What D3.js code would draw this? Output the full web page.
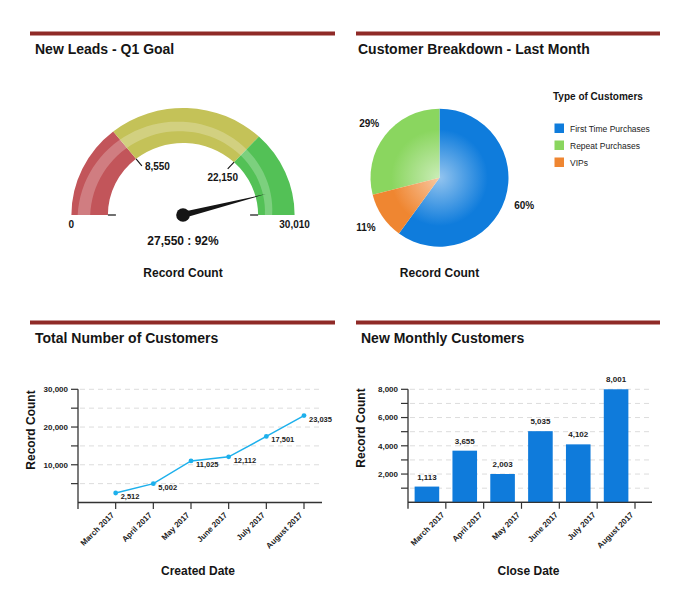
<!DOCTYPE html>
<html><head><meta charset="utf-8">
<script src="https://cdn.jsdelivr.net/npm/d3@7"></script>
<style>
body{margin:0;background:#fff;}
svg text{font-family:"Liberation Sans",Arial,sans-serif;}
</style></head><body>
<svg id="chart" width="690" height="609"></svg>
<script>
// ---------------- data ----------------
const panelTitles = ["New Leads - Q1 Goal", "Customer Breakdown - Last Month", "Total Number of Customers", "New Monthly Customers"];

const gaugeStops = [0, 8550, 22150, 30010];
const gaugeValue = 27550;
const gaugeTitle = "Record Count";

const pieTitle = "Type of Customers";
const pieCategories = ["First Time Purchases", "Repeat Purchases", "VIPs"];
const pieShares = [60, 29, 11];
const pieAxisTitle = "Record Count";

const months = ["March 2017", "April 2017", "May 2017", "June 2017", "July 2017", "August 2017"];
const totalCustomers = [2512, 5002, 11025, 12112, 17501, 23035];
const lineYTicks = [5000, 10000, 15000, 20000, 25000, 30000];
const lineYLabeled = [10000, 20000, 30000];
const lineXTitle = "Created Date";

const newCustomers = [1113, 3655, 2003, 5035, 4102, 8001];
const barYTicks = [1000, 2000, 3000, 4000, 5000, 6000, 7000, 8000];
const barYLabeled = [2000, 4000, 6000, 8000];
const barXTitle = "Close Date";
const yTitle = "Record Count";

// ---------------- styles ----------------
const gaugeColors = ["#c2555a", "#c4c258", "#53c156"];
const pieColors = ["#0f7cdc", "#8ad65f", "#ef8631"];
const lineColor = "#1db0ec";
const barColor = "#0f7bdb";
const axisColor = "#333";
const textColor = "#151515";
const fmt = d3.format(",");

const svg = d3.select("#chart");
const defs = svg.append("defs");

// ---------------- panel headers ----------------
const panels = [
  {x0: 30, x1: 335, y: 31.5, tx: 35, ty: 54},
  {x0: 356, x1: 660, y: 31.5, tx: 358, ty: 54},
  {x0: 30, x1: 335, y: 320.5, tx: 35, ty: 343},
  {x0: 356, x1: 660, y: 320.5, tx: 361, ty: 343}
];
panels.forEach((p, i) => {
  svg.append("rect").attr("x", p.x0).attr("y", p.y).attr("width", p.x1 - p.x0).attr("height", 4).attr("fill", "#8f2a27");
  svg.append("text").attr("x", p.tx).attr("y", p.ty).text(panelTitles[i])
    .attr("font-size", 14).attr("font-weight", "bold").attr("fill", textColor);
});

// ---------------- gauge ----------------
(function () {
  const cx = 183, cy = 215, sx = 1.043, R0 = 72, R1 = 107;
  const gMax = gaugeStops[gaugeStops.length - 1];
  const ga = d3.scaleLinear().domain([0, gMax]).range([-Math.PI / 2, Math.PI / 2]);
  const g = svg.append("g").attr("transform", `translate(${cx},${cy}) scale(${sx},1)`);
  const arc = d3.arc().innerRadius(R0).outerRadius(R1);
  d3.pairs(gaugeStops).forEach(([a, b], i) => {
    g.append("path").attr("d", arc({startAngle: ga(a), endAngle: ga(b)})).attr("fill", gaugeColors[i]);
  });
  // gloss stripe
  const angs = d3.range(0, 1.0001, 0.02).map(t => -Math.PI / 2 + t * Math.PI);
  const tOf = a => (a + Math.PI / 2) / Math.PI;
  const stripe = d3.areaRadial().angle(a => a)
    .innerRadius(a => 89 - 10.5 * tOf(a)).outerRadius(a => 101 - 15.5 * tOf(a));
  g.append("path").attr("d", stripe(angs)).attr("fill", "#fff").attr("opacity", 0.24);

  // end ticks at baseline
  [[-1, 1], [1, -1]].forEach(([side, dir]) => {
    const x = cx + side * sx * R0;
    svg.append("line").attr("x1", x).attr("x2", x + dir * 8).attr("y1", cy).attr("y2", cy)
      .attr("stroke", "#111").attr("stroke-width", 1.2);
  });
  // stop ticks & labels
  gaugeStops.slice(1, -1).forEach(v => {
    const a = ga(v);
    const p = r => [cx + sx * r * Math.sin(a), cy - r * Math.cos(a)];
    const [x1, y1] = p(R0), [x2, y2] = p(R0 - 9);
    svg.append("line").attr("x1", x1).attr("y1", y1).attr("x2", x2).attr("y2", y2).attr("stroke", "#111").attr("stroke-width", 1.1);
    const t = svg.append("text").text(fmt(v)).attr("font-size", 10).attr("font-weight", "bold").attr("fill", textColor);
    if (a < 0) t.attr("x", x2 + 3).attr("y", y2 + 4).attr("text-anchor", "start");
    else t.attr("x", x2 - 5).attr("y", y2 + 12).attr("text-anchor", "middle");
  });
  // min/max labels
  [[0, -1], [gMax, 1]].forEach(([v, side]) => {
    svg.append("text").attr("x", cx + side * sx * R1).attr("y", 227.5).attr("text-anchor", "middle")
      .attr("font-size", 10).attr("font-weight", "bold").attr("fill", textColor).text(fmt(v));
  });
  // needle
  const na = ga(gaugeValue);
  const L = 82, w = 3.2;
  const tip = [L * Math.sin(na), -L * Math.cos(na)];
  const b1 = [w * Math.cos(na), w * Math.sin(na)], b2 = [-b1[0], -b1[1]];
  g.append("path").attr("d", `M${b1}L${tip}L${b2}Z`).attr("fill", "#151515");
  svg.append("circle").attr("cx", cx).attr("cy", cy).attr("r", 6.8).attr("fill", "#151515");

  svg.append("text").attr("x", cx).attr("y", 245).attr("text-anchor", "middle").attr("font-size", 12).attr("font-weight", "bold")
    .attr("fill", textColor).text(`${fmt(gaugeValue)} : ${Math.round(gaugeValue / gMax * 100)}%`);
  svg.append("text").attr("x", cx).attr("y", 276.5).attr("text-anchor", "middle").attr("font-size", 12).attr("font-weight", "bold")
    .attr("fill", textColor).text(gaugeTitle);
})();

// ---------------- pie ----------------
(function () {
  const cx = 439.5, cy = 177.7, R = 69;
  const total = d3.sum(pieShares);
  const a0 = pieShares[0] / total * 2 * Math.PI;
  const pie = d3.pie().sort(null).value(d => d).startAngle(a0).endAngle(a0 - 2 * Math.PI);
  const arcs = pie(pieShares);
  const arc = d3.arc().innerRadius(0).outerRadius(R);
  const pg = svg.append("g").attr("transform", `translate(${cx},${cy})`);
  arcs.forEach((d, i) => {
    const gid = "pieGrad" + i;
    const grad = defs.append("radialGradient").attr("id", gid).attr("gradientUnits", "userSpaceOnUse")
      .attr("cx", 0).attr("cy", 0).attr("r", R).attr("fx", 0).attr("fy", 0);
    grad.append("stop").attr("offset", "0%").attr("stop-color", d3.interpolateRgb(pieColors[i], "#ffffff")(0.55));
    grad.append("stop").attr("offset", "25%").attr("stop-color", d3.interpolateRgb(pieColors[i], "#ffffff")(0.35));
    grad.append("stop").attr("offset", "70%").attr("stop-color", pieColors[i]);
    grad.append("stop").attr("offset", "100%").attr("stop-color", pieColors[i]);
    pg.append("path").attr("d", arc(d)).attr("fill", `url(#${gid})`);
    const mid = (d.startAngle + d.endAngle) / 2, lr = 89;
    svg.append("text").attr("x", cx + lr * Math.sin(mid)).attr("y", cy - lr * Math.cos(mid)).attr("dy", "0.36em")
      .attr("text-anchor", "middle").attr("font-size", 10).attr("font-weight", "bold").attr("fill", textColor)
      .text(Math.round(d.value / total * 100) + "%");
  });
  svg.append("text").attr("x", 553).attr("y", 99.5).attr("font-size", 10).attr("font-weight", "bold").attr("fill", textColor).text(pieTitle);
  pieCategories.forEach((c, i) => {
    svg.append("rect").attr("x", 554.5).attr("y", 123.5 + i * 17).attr("width", 9.5).attr("height", 9.5).attr("fill", pieColors[i]);
    svg.append("text").attr("x", 570).attr("y", 131.5 + i * 17).attr("font-size", 8.5).attr("fill", "#222").text(c);
  });
  svg.append("text").attr("x", cx).attr("y", 276.5).attr("text-anchor", "middle").attr("font-size", 12).attr("font-weight", "bold")
    .attr("fill", textColor).text(pieAxisTitle);
})();

// ---------------- shared axis helper ----------------
function drawFrame(o) {
  const g = svg.append("g");
  g.selectAll(".grid").data(o.yTicks).join("line")
    .attr("x1", o.left + 2).attr("x2", o.right).attr("y1", d => o.y(d)).attr("y2", d => o.y(d))
    .attr("stroke", "#dcdcdc").attr("stroke-width", 1).attr("stroke-dasharray", "5,4");
  g.selectAll(".yt").data(o.yTicks).join("line")
    .attr("x1", o.left - 7).attr("x2", o.left).attr("y1", d => o.y(d)).attr("y2", d => o.y(d))
    .attr("stroke", axisColor).attr("stroke-width", 1.2);
  g.selectAll(".yl").data(o.yLabeled).join("text")
    .attr("x", o.left - 10).attr("y", d => o.y(d)).attr("dy", "0.35em").attr("text-anchor", "end")
    .attr("font-size", 8).attr("font-weight", "bold").attr("fill", "#222").text(d => fmt(d));
  g.append("line").attr("x1", o.left).attr("x2", o.left).attr("y1", o.y(o.yMax)).attr("y2", o.y(0) + 6.5)
    .attr("stroke", axisColor).attr("stroke-width", 1.3);
  g.append("line").attr("x1", o.left).attr("x2", o.right).attr("y1", o.y(0)).attr("y2", o.y(0))
    .attr("stroke", axisColor).attr("stroke-width", 1.3);
  g.selectAll(".xt").data(months).join("line")
    .attr("x1", d => o.tickX(d)).attr("x2", d => o.tickX(d)).attr("y1", o.y(0)).attr("y2", o.y(0) + 6.5)
    .attr("stroke", axisColor).attr("stroke-width", 1.2);
  g.selectAll(".xl").data(months).join("text")
    .attr("transform", d => `translate(${o.tickX(d) - 1},${o.y(0) + 13}) rotate(-45)`)
    .attr("text-anchor", "end").attr("font-size", 8).attr("font-weight", "bold").attr("fill", "#222").text(d => d);
  g.append("text").attr("transform", `translate(${o.yTitleX},${o.yTitleY}) rotate(-90)`).attr("text-anchor", "middle")
    .attr("font-size", 12).attr("font-weight", "bold").attr("fill", textColor).text(yTitle);
  g.append("text").attr("x", o.xTitleX).attr("y", 574.5).attr("text-anchor", "middle")
    .attr("font-size", 12).attr("font-weight", "bold").attr("fill", textColor).text(o.xTitle);
}

// ---------------- line chart ----------------
(function () {
  const slot = d3.scaleBand().domain(months).range([78, 304]);
  const xPos = m => slot(m) + slot.bandwidth();
  const y = d3.scaleLinear().domain([0, 30000]).range([502.5, 389.3]);
  drawFrame({left: 78, right: 322, y, yMax: 30000, yTicks: lineYTicks, yLabeled: lineYLabeled, tickX: xPos,
    yTitleX: 34.5, yTitleY: 430, xTitleX: 198, xTitle: lineXTitle});
  const pts = months.map((m, i) => [xPos(m), y(totalCustomers[i])]);
  svg.append("path").attr("d", d3.line()(pts)).attr("fill", "none").attr("stroke", lineColor).attr("stroke-width", 1.5);
  svg.selectAll(".lp").data(pts).join("circle").attr("cx", d => d[0]).attr("cy", d => d[1]).attr("r", 2.4).attr("fill", lineColor);
  svg.selectAll(".ll").data(months).join("text")
    .attr("x", (m, i) => pts[i][0] + 5).attr("y", (m, i) => pts[i][1] + 6)
    .attr("font-size", 7.5).attr("font-weight", "bold").attr("fill", "#222").text((m, i) => fmt(totalCustomers[i]));
})();

// ---------------- bar chart ----------------
(function () {
  const slot = d3.scaleBand().domain(months).range([408, 635]);
  const bx = d3.scaleBand().domain(months).range([408, 635]).paddingInner(0.35).paddingOuter(0.175);
  const tickX = m => slot(m) + slot.bandwidth();
  const y = d3.scaleLinear().domain([0, 8000]).range([502.3, 389.3]);
  drawFrame({left: 408, right: 652, y, yMax: 8000, yTicks: barYTicks, yLabeled: barYLabeled, tickX,
    yTitleX: 364.5, yTitleY: 428, xTitleX: 528.5, xTitle: barXTitle});
  svg.selectAll(".bar").data(months).join("rect")
    .attr("x", m => bx(m)).attr("width", bx.bandwidth())
    .attr("y", (m, i) => y(newCustomers[i])).attr("height", (m, i) => y(0) - y(newCustomers[i]))
    .attr("fill", barColor);
  svg.selectAll(".bl").data(months).join("text")
    .attr("x", m => bx(m) + bx.bandwidth() / 2).attr("y", (m, i) => y(newCustomers[i]) - 7)
    .attr("text-anchor", "middle").attr("font-size", 8).attr("font-weight", "bold").attr("fill", "#222")
    .text((m, i) => fmt(newCustomers[i]));
  svg.append("line").attr("x1", 408).attr("x2", 652).attr("y1", y(0)).attr("y2", y(0)).attr("stroke", axisColor).attr("stroke-width", 1.3);
})();
</script>
</body></html>
